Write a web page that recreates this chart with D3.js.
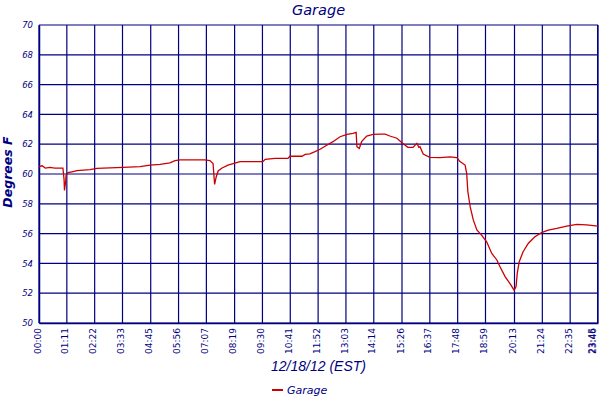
<!DOCTYPE html>
<html>
<head>
<meta charset="utf-8">
<script src="https://cdn.jsdelivr.net/npm/d3@7"></script>
<style>
  body { margin: 0; background: #fff; }
  svg { display: block; }
</style>
</head>
<body>
<div id="chart"></div>
<script>
var margin = { top: 25, right: 2, bottom: 77, left: 39 }
var width = 600 - margin.left - margin.right
var height = 400 - margin.top - margin.bottom
var navy = '#000080'
var lineColor = '#cc0000'

// minutes since midnight, 12/18/12
var times = [0, 8, 16, 28, 40, 61, 64, 65, 68, 69, 74, 84, 97, 130, 148, 214, 258, 283, 309, 334,
  347, 360, 423, 436, 444, 448, 452, 457, 467, 482, 513, 571, 577, 602, 635, 640, 671, 679, 691, 704,
  717, 735, 750, 768, 786, 801, 809, 811, 817, 823, 836, 852, 870, 883, 895, 913, 926, 941, 954, 964,
  969, 972, 980, 997, 1023, 1048, 1066, 1074, 1087, 1091, 1094, 1100, 1108, 1117, 1129, 1142, 1155, 1168, 1176, 1189,
  1202, 1212, 1217, 1220, 1225, 1235, 1248, 1265, 1282, 1299, 1321, 1346, 1372, 1397, 1426]
var temps = [60.5, 60.55, 60.4, 60.45, 60.4, 60.4, 59.6, 58.9, 59.5, 59.9, 60.1, 60.15, 60.22, 60.3, 60.38, 60.45, 60.5, 60.6, 60.65, 60.75,
  60.9, 60.95, 60.95, 60.9, 60.7, 59.3, 59.8, 60.2, 60.4, 60.6, 60.83, 60.83, 60.98, 61.05, 61.05, 61.19, 61.19, 61.32, 61.35, 61.5,
  61.66, 61.95, 62.17, 62.5, 62.66, 62.73, 62.8, 61.83, 61.72, 62.17, 62.55, 62.66, 62.68, 62.68, 62.55, 62.4, 62.1, 61.79, 61.79, 62.06,
  61.79, 61.83, 61.34, 61.12, 61.1, 61.15, 61.1, 60.83, 60.6, 60.04, 58.81, 57.8, 56.9, 56.24, 55.9, 55.45, 54.67, 54.23, 53.78, 53.11,
  52.62, 52.2, 52.44, 53.33, 54.11, 54.78, 55.34, 55.79, 56.06, 56.24, 56.35, 56.5, 56.62, 56.58, 56.5]

var tickMinutes = [0, 71, 142, 213, 285, 356, 427, 499, 570, 641, 712, 783, 854, 926, 997, 1068, 1139, 1213, 1284, 1355, 1425, 1426]
var tickLabels = ['00:00', '01:11', '02:22', '03:33', '04:45', '05:56', '07:07', '08:19', '09:30', '10:41', '11:52',
  '13:03', '14:14', '15:26', '16:37', '17:48', '18:59', '20:13', '21:24', '22:35', '23:45', '23:46']
var yTicks = [50, 52, 54, 56, 58, 60, 62, 64, 66, 68, 70]

var data = times.map(function(t, i) { return { t: t, v: temps[i] } })

var svg = d3.select('#chart').append('svg')
  .attr('width', 600)
  .attr('height', 400)

var g = svg.append('g')
  .attr('transform', 'translate(' + margin.left + ',' + margin.top + ')')

var x = d3.scaleLinear().domain([0, 1426]).range([0, width])
var y = d3.scaleLinear().domain([50, 70]).range([height, 0])

// grid
g.append('g').selectAll('line.h')
  .data(yTicks)
  .enter().append('line')
  .attr('x1', 0).attr('x2', width)
  .attr('y1', d => y(d)).attr('y2', d => y(d))
  .attr('stroke', navy).attr('stroke-width', 1.2)

g.append('g').selectAll('line.v')
  .data(tickMinutes)
  .enter().append('line')
  .attr('x1', d => x(d)).attr('x2', d => x(d))
  .attr('y1', 0).attr('y2', height)
  .attr('stroke', navy).attr('stroke-width', 1.2)

// axes
var xAxis = g.append('g')
  .attr('transform', 'translate(0,' + height + ')')
  .call(d3.axisBottom(x).tickValues(tickMinutes).tickFormat((d, i) => tickLabels[i]).tickSize(0))
xAxis.select('.domain').attr('stroke', navy).attr('stroke-width', 1.5)
xAxis.selectAll('text')
  .attr('transform', 'rotate(-90)')
  .attr('x', -5).attr('y', 0)
  .attr('dy', (d, i) => i >= tickLabels.length - 2 ? '-0.3em' : '0.12em') // keep the crowded end labels inside
  .style('text-anchor', 'end')
  .attr('fill', navy)
  .style('font-family', 'DejaVu Sans')
  .style('font-size', '9px')

var yAxis = g.append('g')
  .call(d3.axisLeft(y).tickValues(yTicks).tickSize(0).tickPadding(6))
yAxis.select('.domain').attr('stroke', navy).attr('stroke-width', 1.5)
yAxis.selectAll('text')
  .attr('fill', navy)
  .style('font-family', 'DejaVu Sans')
  .style('font-style', 'italic')
  .style('font-size', '8.5px')

// temperature line
var line = d3.line()
  .x(d => x(d.t))
  .y(d => y(d.v))

g.append('path')
  .datum(data)
  .attr('fill', 'none')
  .attr('stroke', lineColor)
  .attr('stroke-width', 1.3)
  .attr('d', line)

// titles
svg.append('text')
  .attr('x', margin.left + width / 2)
  .attr('y', 15)
  .attr('text-anchor', 'middle')
  .attr('fill', navy)
  .style('font-family', 'DejaVu Sans')
  .style('font-style', 'italic')
  .style('font-size', '14.5px')
  .text('Garage')

svg.append('text')
  .attr('transform', 'translate(12,' + (margin.top + height / 2 - 2) + ')rotate(-90)')
  .attr('text-anchor', 'middle')
  .attr('fill', navy)
  .style('font-family', 'DejaVu Sans')
  .style('font-style', 'italic')
  .style('font-weight', 'bold')
  .style('font-size', '12.5px')
  .text('Degrees F')

svg.append('text')
  .attr('x', margin.left + width / 2)
  .attr('y', 371)
  .attr('text-anchor', 'middle')
  .attr('fill', navy)
  .style('font-family', 'Liberation Sans')
  .style('font-style', 'italic')
  .style('font-size', '14px')
  .text('12/18/12 (EST)')

// legend
var legend = svg.append('g').attr('transform', 'translate(272,390)')
legend.append('line')
  .attr('x1', 0).attr('x2', 11)
  .attr('stroke', lineColor).attr('stroke-width', 2)
legend.append('text')
  .attr('x', 15).attr('y', 4)
  .attr('fill', navy)
  .style('font-family', 'DejaVu Sans')
  .style('font-style', 'italic')
  .style('font-size', '11px')
  .text('Garage')
</script>
</body>
</html>
